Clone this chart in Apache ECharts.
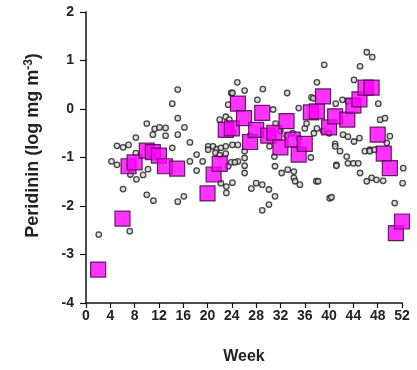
<!DOCTYPE html>
<html>
<head>
<meta charset="utf-8">
<script src="https://cdn.jsdelivr.net/npm/echarts@6/dist/echarts.min.js"></script>
<style>
  html, body { margin: 0; padding: 0; background: #fff; }
  #chart { width: 417px; height: 370px; }
</style>
</head>
<body>
<div id="chart"></div>
<script>
// Axis ranges and ticks
const weekTicks = [0, 4, 8, 12, 16, 20, 24, 28, 32, 36, 40, 44, 48, 52];
const valueTicks = [-4, -3, -2, -1, 0, 1, 2];

// Weekly mean peridinin (week, log mg m^-3)
const meanWeeks = [2, 6, 7, 8, 10, 11, 12, 13, 15, 20, 21, 22, 23, 24, 25, 26, 27, 28, 29, 30, 31,
  32, 33, 34, 35, 36, 37, 38, 39, 40, 41, 43, 44, 45, 46, 47, 48, 49, 50, 51, 52];
const meanValues = [-3.31, -2.26, -1.18, -1.10, -0.86, -0.89, -0.96, -1.18, -1.23, -1.74, -1.35,
  -1.13, -0.43, -0.40, 0.11, -0.19, -0.68, -0.43, -0.08, -0.55, -0.49, -0.79, -0.25, -0.63, -0.94,
  -0.72, -0.07, -0.05, 0.26, -0.38, -0.15, -0.22, 0.07, 0.20, 0.44, 0.44, -0.53, -0.92, -1.22,
  -2.56, -2.32];

// Individual samples (week, log mg m^-3)
const sampleWeeks = [
  2.1, 4.2, 5.1, 5.1, 6.1, 6.1, 7.0, 7.2, 7.3, 8.2, 8.3, 8.2, 9.4,
  10.0, 10.2, 10.0, 11.3, 11.0, 11.1, 12.1, 13.1, 13.1, 14.2, 14.2,
  15.1, 15.1, 15.1, 15.1, 16.2, 16.1, 17.1, 17.1, 18.2, 18.2, 19.2,
  20.1, 20.1, 20.9, 21.5, 21.3, 22.2, 22.0, 22.2, 22.0,
  23.0, 23.0, 23.4, 23.4, 23.1, 23.1, 23.0,
  24.1, 23.6, 23.9, 24.2, 23.9, 24.1, 24.1,
  24.9, 25.0, 24.5, 25.0, 26.1, 26.1, 26.1, 26.1, 26.1,
  27.2, 27.0, 28.0, 28.2, 29.0, 29.1, 29.0,
  30.1, 30.1, 30.2, 30.8, 31.1, 31.1, 31.0, 31.2,
  32.2, 32.0, 33.2, 33.1, 33.0, 34.2, 34.2, 34.4, 34.0,
  35.2, 35.0, 35.0, 36.0, 36.3, 37.1, 37.4, 37.0, 37.5,
  38.0, 37.9, 38.2, 38.0, 39.2, 39.0, 40.1, 40.4, 40.0,
  41.1, 41.0, 41.2, 41.2, 41.0, 42.2, 42.3, 41.8,
  43.1, 43.1, 42.9, 43.1, 44.1, 44.1, 44.0,
  45.1, 44.8, 45.1, 45.0, 46.2, 45.9, 46.2, 46.7,
  47.1, 46.7, 47.0, 47.5, 48.1, 48.4, 47.8,
  49.2, 48.9, 49.5, 50.0, 50.8, 52.2, 52.1
];
const sampleValues = [
  -2.59, -1.08, -1.15, -0.76, -0.79, -1.65, -0.74, -2.52, -1.35, -0.59, -1.45, -0.91, -1.36,
  -0.30, -1.24, -1.77, -0.41, -0.53, -1.89, -0.38, -0.39, -0.55, 0.11, -0.80,
  0.40, -0.19, -0.53, -1.91, -0.38, -1.80, -0.69, -1.08, -0.94, -1.27, -1.08,
  -0.77, -0.84, -0.77, -0.83, -0.90, -0.80, -0.22, -1.53, -0.95,
  -0.77, -0.16, 0.09, -1.18, -1.60, -1.73, -0.92,
  -0.74, -0.22, 0.33, -0.49, -1.10, -1.52, 0.33,
  0.55, -1.08, -1.10, -0.74, 0.38, -0.87, -1.01, -1.17, -1.32,
  -1.64, -0.55, -1.53, 0.19, -1.56, 0.41, -2.09,
  -1.66, -1.97, -0.77, -0.01, -1.80, -1.18, -0.98, -0.30,
  -1.32, -0.45, -1.25, 0.33, -0.55, -1.29, -1.42, -1.49, -0.50,
  -1.56, 0.02, -0.60, -0.40, -0.30, 0.24, 0.22, -1.00, -0.50,
  0.55, -1.49, -1.49, -0.40, 0.91, -0.45, -1.84, -1.82, -0.50,
  0.11, -0.72, -1.15, -1.17, -0.77, 0.19, -0.53, -0.87,
  0.16, -0.57, -0.98, -1.12, 0.60, -0.67, -1.12,
  0.88, -1.12, -1.32, -0.60, 1.17, -0.87, -1.49, -0.84,
  1.07, -0.87, -1.42, -0.84, 0.11, -0.22, -1.46,
  -0.19, -1.48, -0.70, -0.56, -1.94, -1.22, -1.53
];

const samples = sampleWeeks.map((w, i) => [w, sampleValues[i]]);
const means = meanWeeks.map((w, i) => [w, meanValues[i]]);

const labelFont = { fontFamily: 'Liberation Sans, Arial, sans-serif', fontWeight: 'bold', color: '#222' };

const chart = echarts.init(document.getElementById('chart'), null, { renderer: 'canvas' });
chart.setOption({
  backgroundColor: '#fff',
  animation: false,
  grid: { left: 86, right: 15, top: 12, bottom: 67 },
  xAxis: {
    type: 'value',
    min: weekTicks[0],
    max: weekTicks[weekTicks.length - 1],
    interval: 4,
    name: 'Week',
    nameLocation: 'middle',
    nameGap: 46,
    nameTextStyle: Object.assign({ fontSize: 16 }, labelFont),
    axisLine: { show: true, onZero: false, lineStyle: { color: '#111', width: 1.5 } },
    axisTick: { show: true, inside: false, length: 5, lineStyle: { color: '#111', width: 1.2 } },
    axisLabel: Object.assign({ fontSize: 14, margin: 6 }, labelFont),
    splitLine: { show: false }
  },
  yAxis: {
    type: 'value',
    min: valueTicks[0],
    max: valueTicks[valueTicks.length - 1],
    interval: 1,
    name: 'Peridinin (log mg m{sup|-3})',
    nameLocation: 'middle',
    nameGap: 42,
    nameTextStyle: Object.assign({
      fontSize: 18,
      padding: [0, 0, 0, 24],
      rich: {
        sup: Object.assign({ fontSize: 12, verticalAlign: 'top', padding: [0, 0, 9, 0] }, labelFont)
      }
    }, labelFont),
    axisLine: { show: true, onZero: false, lineStyle: { color: '#111', width: 1.5 } },
    axisTick: { show: true, inside: false, length: 6, lineStyle: { color: '#111', width: 1.2 } },
    axisLabel: Object.assign({ fontSize: 14, margin: 12 }, labelFont),
    splitLine: { show: false }
  },
  series: [
    {
      name: 'samples',
      type: 'scatter',
      data: samples,
      symbol: 'circle',
      symbolSize: 5.5,
      clip: false,
      itemStyle: { color: '#d6d6d6', borderColor: '#1a1a1a', borderWidth: 1.3 },
      z: 2
    },
    {
      name: 'weekly mean',
      type: 'scatter',
      data: means,
      symbol: 'rect',
      symbolSize: 15,
      clip: false,
      itemStyle: { color: '#ff00ff', borderColor: '#3a0035', borderWidth: 1.2 },
      z: 3
    }
  ]
});
</script>
</body>
</html>
